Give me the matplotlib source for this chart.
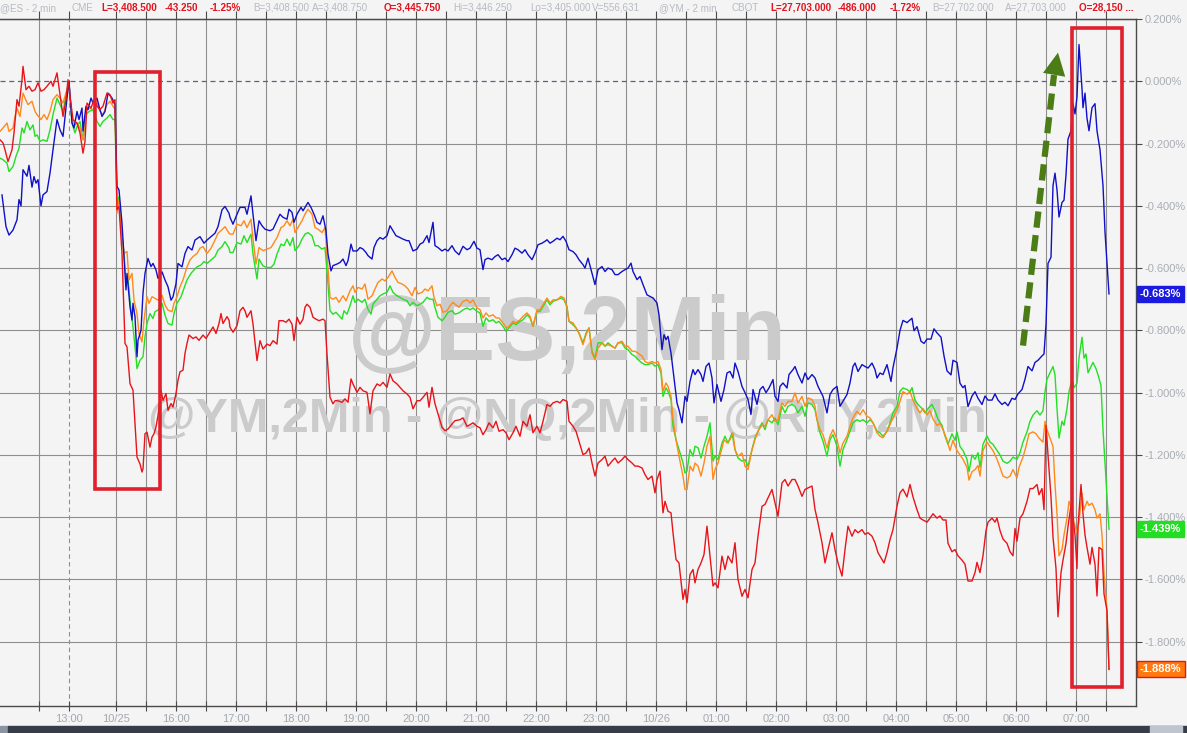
import numpy as np
import matplotlib
matplotlib.use("Agg")
import matplotlib.pyplot as plt
from matplotlib.patches import Rectangle

plt.rcParams['font.family'] = ['Liberation Sans', 'DejaVu Sans']

# ---------------- data (x = minutes on the compressed session axis, y = % change) ----------------
es_t = [2, 6, 9, 13, 17, 19, 21, 23, 27, 29, 32, 34, 36, 38, 41, 43, 47, 50, 53, 57, 60, 63, 67, 69, 72, 74, 77, 79, 82, 83,
        86, 88, 91, 93, 97, 99, 102, 105, 108, 112, 115, 117, 119, 122, 124, 126, 127, 130, 132, 133, 135, 137, 138, 141,
        143, 145, 148, 151, 153, 156, 158, 162, 165, 168, 171, 173, 176, 178, 182, 185, 188, 192, 195, 200, 204, 207, 211,
        215, 218, 222, 225, 229,
        230, 233, 237, 240, 245, 247, 251, 253, 256, 259, 262, 265, 270, 273, 277, 280, 283, 287, 289, 292, 294, 297, 301,
        303, 306, 308, 311, 314, 317, 320, 323, 326, 328, 331, 333, 337, 340, 343, 346, 348, 351, 353, 357, 360, 363, 366,
        368, 372, 374, 377, 380, 383, 387, 390, 393, 396, 400, 403, 407, 409, 413, 417, 420, 423, 427, 429, 433, 435, 438,
        442, 445, 448, 452, 455,
        459, 463, 467, 470, 474, 477, 480, 483, 485, 488, 492, 495, 498, 502, 505, 508, 512, 515, 518, 522, 525, 528, 532,
        535, 538, 542, 545, 547, 550, 553, 557, 560, 563, 566, 569, 573, 576, 579, 583, 585, 588, 592, 595, 598, 602, 605,
        608, 612, 615, 618, 622, 625, 628, 631, 633, 637, 640, 643, 647, 650, 653, 657, 659, 662, 664, 666, 668, 671, 673,
        677, 679, 682,
        685, 687, 690, 693, 695, 698, 701, 703, 706, 709, 712, 714, 717, 721, 724, 727, 730, 733, 735, 738, 742, 745, 748,
        751, 753, 757, 760, 763, 766, 769, 773, 775, 778, 780, 783, 787, 789, 793, 795, 798, 802, 805, 808, 812, 815, 818,
        823, 827, 830, 833, 837, 840, 843, 847, 850, 853, 855, 858, 862, 865, 868, 872, 875, 877, 880, 883, 887, 891, 893,
        897,
        900, 903, 907, 912, 914, 917, 921, 924, 927, 931, 934, 937, 941, 944, 947, 951, 953, 957, 960, 963, 965, 968, 972,
        975, 978, 982, 985, 988, 992, 995, 998, 1002, 1005, 1008, 1012, 1015, 1018, 1022, 1025, 1028, 1032, 1035, 1038,
        1042, 1044, 1046, 1048, 1051, 1053, 1055, 1057, 1059, 1062, 1064, 1066, 1068, 1071, 1073, 1075, 1077, 1079, 1082,
        1083, 1085, 1087, 1089, 1092, 1095, 1097, 1100, 1103, 1105, 1109]
es_v = [-0.365, -0.467, -0.494, -0.478, -0.445, -0.38, -0.40, -0.284, -0.305, -0.27, -0.34, -0.306, -0.327, -0.316, -0.40,
        -0.365, -0.354, -0.295, -0.22, -0.123, -0.156, -0.177, -0.054, 0.0, -0.134, -0.15, -0.097, -0.123, -0.086, -0.16,
        -0.08, -0.091, -0.054, -0.07, -0.054, -0.08, -0.113, -0.097, -0.038, -0.054, -0.075, -0.338, -0.349, -0.456, -0.563,
        -0.67, -0.617, -0.724, -0.767, -0.713, -0.756, -0.885, -0.832, -0.80, -0.68, -0.617, -0.569, -0.595, -0.585, -0.606,
        -0.633, -0.612, -0.638, -0.66, -0.703, -0.692, -0.65, -0.585, -0.596, -0.553, -0.531, -0.542, -0.51, -0.499, -0.52,
        -0.51, -0.499, -0.488, -0.467, -0.413, -0.402, -0.424,
        -0.437, -0.459, -0.427, -0.405, -0.405, -0.427, -0.368, -0.427, -0.512, -0.448, -0.464, -0.475, -0.48, -0.475,
        -0.448, -0.427, -0.437, -0.443, -0.411, -0.421, -0.453, -0.427, -0.405, -0.416, -0.40, -0.389, -0.405, -0.427,
        -0.453, -0.459, -0.432, -0.48, -0.555, -0.609, -0.592, -0.587, -0.582, -0.571, -0.592, -0.576, -0.523, -0.545,
        -0.545, -0.534, -0.539, -0.55, -0.56, -0.571, -0.534, -0.512, -0.502, -0.507, -0.496, -0.464, -0.48, -0.496,
        -0.502, -0.507, -0.512, -0.512, -0.545, -0.539, -0.523, -0.518, -0.496, -0.518, -0.453, -0.528, -0.534, -0.545,
        -0.539, -0.545, -0.528, -0.545,
        -0.557, -0.530, -0.541, -0.536, -0.514, -0.536, -0.541, -0.605, -0.573, -0.568, -0.573, -0.563, -0.557, -0.573,
        -0.568, -0.579, -0.557, -0.536, -0.541, -0.552, -0.541, -0.557, -0.573, -0.552, -0.525, -0.520, -0.514, -0.509,
        -0.520, -0.514, -0.504, -0.509, -0.498, -0.514, -0.541, -0.547, -0.557, -0.573, -0.589, -0.600, -0.568, -0.616,
        -0.653, -0.605, -0.595, -0.611, -0.600, -0.605, -0.621, -0.621, -0.611, -0.605, -0.600, -0.584, -0.611, -0.637,
        -0.627, -0.653, -0.686, -0.691, -0.696, -0.712, -0.750, -0.862, -0.814, -0.830, -0.819, -0.873, -0.926, -1.033,
        -1.055, -1.097,
        -1.012, -1.028, -0.964, -0.926, -0.942, -0.926, -0.942, -0.964, -0.916, -0.905, -0.953, -1.033, -0.974, -1.028,
        -0.99, -0.937, -0.932, -0.953, -0.905, -0.932, -0.98, -1.0, -1.022, -1.07, -0.99, -1.038, -0.99, -0.98, -1.0,
        -0.985, -0.958, -1.012, -1.028, -0.98, -0.969, -0.985, -0.942, -0.926, -0.916, -0.942, -0.969, -0.937, -0.958,
        -0.942, -0.953, -0.98, -1.012, -1.065, -1.006, -0.99, -0.98, -1.044, -1.028, -1.006, -0.969, -0.916, -0.905, -0.932,
        -0.91, -0.916, -0.921, -0.905, -0.926, -0.953, -0.937, -0.942, -0.91, -0.964, -0.92, -0.857,
        -0.80, -0.768, -0.775, -0.761, -0.801, -0.788, -0.835, -0.842, -0.828, -0.828, -0.795, -0.808, -0.822, -0.882,
        -0.93, -0.943, -0.896, -0.903, -0.97, -0.984, -0.977, -1.045, -1.011, -0.997, -1.018, -1.038, -1.011, -1.024,
        -1.024, -1.004, -1.024, -1.038, -1.031, -1.042, -1.018, -1.022, -1.004, -0.99, -0.957, -0.916, -0.93, -0.903,
        -0.896, -0.882, -0.876, -0.781, -0.585, -0.565, -0.335, -0.295, -0.349, -0.436, -0.389, -0.382, -0.301, -0.186,
        -0.159, -0.072, -0.105, -0.051, 0.118, -0.024, -0.085, -0.038, -0.119, -0.159, -0.085, -0.072, -0.159, -0.22,
        -0.335, -0.484, -0.683]

rty_t = [0, 3, 7, 9, 13, 15, 17, 20, 23, 25, 28, 32, 35, 37, 41, 44, 47, 50, 53, 57, 60, 63, 67, 69, 72, 75, 77, 80, 83, 86,
         89, 93, 97, 100, 103, 107, 110, 113, 115, 117, 119, 121, 124, 127, 129, 132, 134, 137, 139, 142, 144, 147, 149,
         152, 155, 158, 162, 165, 168, 172, 174, 177, 180, 183, 187, 190, 193, 197, 200, 203, 207, 211, 215, 218, 222, 225,
         229,
         230, 233, 237, 241, 244, 247, 251, 253, 256, 259, 263, 267, 271, 274, 277, 281, 284, 287, 290, 293, 295, 299, 302,
         305, 308, 312, 315, 318, 322, 325, 327, 330, 333, 336, 339, 343, 346, 350, 353, 355, 358, 362, 365, 368, 372, 375,
         378, 382, 385, 388, 392, 395, 398, 402, 405, 408, 412, 415, 418, 422, 425, 428, 432, 434, 437, 440, 443, 447, 450,
         453, 457,
         459, 463, 467, 470, 473, 477, 480, 483, 486, 489, 493, 496, 499, 503, 506, 509, 513, 516, 520, 523, 527, 530, 533,
         537, 540, 543, 547, 550, 553, 557, 561, 564, 567, 569, 573, 576, 579, 583, 586, 589, 592, 595, 598, 602, 605, 608,
         612, 615, 618, 622, 625, 628, 632, 635, 638, 642, 645, 648, 652, 655, 658, 661, 663, 666, 668, 671, 673, 676, 679,
         683, 685,
         687, 690, 693, 695, 698, 701, 704, 707, 710, 713, 715, 718, 722, 724, 727, 730, 733, 735, 738, 742, 745, 748, 752,
         755, 758, 762, 765, 768, 772, 775, 778, 782, 785, 788, 792, 795, 798, 802, 805, 808, 812, 815, 817, 820, 823, 827,
         830, 833, 837, 840, 843, 847, 850, 853, 857, 860, 863, 867, 870, 873, 877, 880, 883, 887, 890, 893, 897,
         900, 903, 907, 910, 913, 917, 920, 923, 927, 930, 933, 937, 940, 943, 947, 950, 953, 957, 960, 963, 967, 969, 972,
         975, 978, 980, 983, 987, 990, 993, 997, 1000, 1003, 1007, 1010, 1013, 1017, 1019, 1023, 1026, 1029, 1033, 1036,
         1039, 1043, 1045, 1047, 1050, 1053, 1055, 1057, 1059, 1062, 1064, 1067, 1069, 1072, 1074, 1077, 1079, 1082, 1084,
         1087, 1089, 1092, 1095, 1097, 1100, 1102, 1104, 1107, 1109]
rty_v = [-0.161, -0.15, -0.134, -0.161, -0.15, -0.113, -0.086, -0.113, -0.038, -0.054, -0.075, -0.064, -0.097, -0.107,
         -0.123, -0.107, -0.123, -0.097, -0.059, -0.043, -0.054, -0.07, -0.027, -0.005, -0.123, -0.14, -0.134, -0.15,
         -0.188, -0.097, -0.086, -0.091, -0.07, -0.097, -0.107, -0.075, -0.064, -0.08, -0.091, -0.424, -0.381, -0.467,
         -0.553, -0.547, -0.638, -0.617, -0.703, -0.746, -0.81, -0.837, -0.767, -0.692, -0.713, -0.692, -0.697, -0.703,
         -0.687, -0.719, -0.735, -0.74, -0.713, -0.692, -0.66, -0.638, -0.596, -0.574, -0.563, -0.553, -0.536, -0.531,
         -0.553, -0.536, -0.51, -0.488, -0.477, -0.467, -0.488,
         -0.491, -0.491, -0.459, -0.464, -0.448, -0.47, -0.443, -0.507, -0.587, -0.534, -0.544, -0.539, -0.534, -0.518,
         -0.502, -0.47, -0.464, -0.448, -0.464, -0.443, -0.486, -0.464, -0.448, -0.427, -0.411, -0.427, -0.47, -0.475,
         -0.486, -0.47, -0.555, -0.694, -0.70, -0.694, -0.71, -0.689, -0.705, -0.673, -0.657, -0.678, -0.662, -0.667,
         -0.651, -0.70, -0.689, -0.667, -0.646, -0.635, -0.641, -0.63, -0.609, -0.63, -0.646, -0.651, -0.657, -0.667,
         -0.689, -0.662, -0.683, -0.678, -0.667, -0.673, -0.657, -0.694, -0.721, -0.716, -0.742, -0.737, -0.721, -0.71,
         -0.721,
         -0.726, -0.707, -0.702, -0.712, -0.702, -0.728, -0.733, -0.76, -0.744, -0.755, -0.75, -0.76, -0.76, -0.776,
         -0.792, -0.787, -0.771, -0.776, -0.766, -0.755, -0.744, -0.755, -0.787, -0.734, -0.734, -0.718, -0.696, -0.712,
         -0.702, -0.702, -0.691, -0.696, -0.728, -0.771, -0.776, -0.792, -0.809, -0.846, -0.814, -0.792, -0.873, -0.894,
         -0.857, -0.84, -0.85, -0.846, -0.851, -0.857, -0.84, -0.835, -0.851, -0.851, -0.867, -0.867, -0.873, -0.883, -0.9,
         -0.905, -0.9, -0.905, -0.9, -0.926, -0.996, -0.969, -0.98, -1.012, -1.087, -1.151, -1.204, -1.268, -1.311,
         -1.311, -1.236, -1.252, -1.226, -1.236, -1.268, -1.226, -1.172, -1.14, -1.279, -1.247, -1.226, -1.178, -1.151,
         -1.161, -1.151, -1.13, -1.183, -1.204, -1.194, -1.236, -1.247, -1.183, -1.151, -1.124, -1.103, -1.108, -1.087,
         -1.071, -1.092, -1.087, -1.033, -1.044, -1.028, -1.028, -1.001, -1.033, -1.012, -1.044, -1.017, -1.022, -1.044,
         -1.087, -1.119, -1.135, -1.178, -1.14, -1.119, -1.151, -1.194, -1.162, -1.14, -1.108, -1.081, -1.06, -1.071,
         -1.055, -1.076, -1.081, -1.097, -1.129, -1.14, -1.145, -1.124, -1.103, -1.081, -1.055,
         -1.028, -0.997, -1.005, -0.997, -1.024, -1.051, -1.065, -1.051, -1.072, -1.058, -1.085, -1.105, -1.099, -1.119,
         -1.153, -1.186, -1.153, -1.186, -1.2, -1.214, -1.24, -1.281, -1.254, -1.247, -1.234, -1.268, -1.186, -1.159,
         -1.173, -1.186, -1.214, -1.24, -1.268, -1.274, -1.268, -1.247, -1.274, -1.24, -1.207, -1.173, -1.132, -1.126,
         -1.132, -1.146, -1.159, -1.092, -1.119, -1.146, -1.173, -1.295, -1.389, -1.524, -1.504, -1.457, -1.403, -1.349,
         -1.376, -1.416, -1.45, -1.416, -1.322, -1.376, -1.349, -1.362, -1.355, -1.376, -1.403, -1.389, -1.457, -1.578,
         -1.70, -1.888]

nq_t = [0, 3, 7, 9, 13, 16, 19, 22, 24, 27, 30, 33, 35, 37, 40, 43, 47, 50, 53, 57, 60, 63, 67, 69, 72, 75, 77, 80, 83, 86,
        89, 93, 97, 100, 103, 107, 110, 113, 115, 117, 119, 121, 124, 126, 128, 131, 133, 136, 137, 140, 143, 145, 147, 150,
        153, 155, 158, 162, 165, 168, 172, 174, 177, 181, 184, 187, 191, 194, 197, 201, 204, 207, 211, 215, 218, 222, 225,
        229,
        230, 233, 237, 241, 244, 247, 251, 253, 257, 259, 263, 267, 271, 274, 277, 281, 284, 287, 290, 293, 295, 299, 302,
        305, 308, 312, 315, 318, 322, 325, 327, 330, 333, 336, 339, 342, 344, 347, 350, 353, 355, 358, 362, 365, 368, 371,
        373, 377, 380, 383, 387, 390, 393, 397, 400, 403, 407, 410, 413, 417, 420, 423, 427, 430, 433, 435, 438, 442, 445,
        448, 452, 455,
        459, 463, 467, 470, 473, 477, 480, 483, 486, 489, 493, 496, 499, 503, 506, 509, 513, 516, 520, 523, 527, 530, 533,
        537, 540, 543, 547, 550, 553, 557, 561, 564, 567, 569, 573, 576, 579, 583, 586, 589, 592, 595, 598, 602, 605, 608,
        612, 615, 618, 622, 625, 628, 632, 635, 638, 642, 645, 648, 652, 655, 658, 661, 663, 666, 668, 671, 673, 676, 679,
        683, 685,
        687, 690, 693, 695, 698, 701, 704, 707, 710, 713, 715, 718, 722, 725, 728, 732, 735, 738, 742, 745, 748, 752, 755,
        758, 762, 765, 768, 772, 775, 778, 782, 785, 788, 792, 795, 798, 802, 805, 808, 812, 815, 817, 820, 823, 827, 830,
        833, 837, 840, 843, 847, 850, 853, 857, 860, 863, 867, 870, 873, 877, 880, 883, 887, 890, 893, 897,
        900, 903, 907, 910, 912, 915, 918, 922, 925, 928, 932, 935, 938, 942, 945, 948, 952, 955, 957, 960, 963, 967, 969,
        972, 975, 978, 980, 983, 987, 990, 993, 997, 1000, 1003, 1007, 1010, 1013, 1017, 1020, 1023, 1027, 1030, 1033,
        1037, 1040, 1043, 1045, 1047, 1050, 1053, 1055, 1057, 1059, 1062, 1064, 1067, 1069, 1072, 1074, 1077, 1079, 1082,
        1084, 1086, 1088, 1091, 1093, 1096, 1098, 1101, 1103, 1106, 1109]
nq_v = [-0.247, -0.252, -0.263, -0.29, -0.274, -0.241, -0.215, -0.15, -0.166, -0.129, -0.156, -0.14, -0.177, -0.172,
        -0.193, -0.188, -0.193, -0.156, -0.107, -0.054, -0.075, -0.097, -0.027, -0.005, -0.134, -0.166, -0.145, -0.129,
        -0.188, -0.107, -0.097, -0.091, -0.129, -0.145, -0.129, -0.118, -0.107, -0.123, -0.123, -0.402, -0.37, -0.467,
        -0.553, -0.649, -0.638, -0.735, -0.789, -0.885, -0.923, -0.896, -0.885, -0.821, -0.778, -0.746, -0.762, -0.74,
        -0.735, -0.713, -0.751, -0.778, -0.783, -0.746, -0.713, -0.692, -0.665, -0.638, -0.617, -0.606, -0.596, -0.59,
        -0.579, -0.585, -0.574, -0.563, -0.542, -0.531, -0.515, -0.536,
        -0.55, -0.55, -0.518, -0.523, -0.496, -0.518, -0.491, -0.555, -0.635, -0.571, -0.593, -0.598, -0.598, -0.587,
        -0.555, -0.523, -0.528, -0.507, -0.528, -0.502, -0.544, -0.528, -0.507, -0.491, -0.486, -0.496, -0.528, -0.528,
        -0.539, -0.534, -0.609, -0.737, -0.748, -0.742, -0.753, -0.764, -0.737, -0.748, -0.721, -0.689, -0.71, -0.70,
        -0.71, -0.70, -0.732, -0.748, -0.716, -0.70, -0.689, -0.683, -0.678, -0.657, -0.678, -0.689, -0.694, -0.70,
        -0.705, -0.721, -0.71, -0.721, -0.716, -0.71, -0.694, -0.70, -0.70, -0.726, -0.758, -0.769, -0.758, -0.742,
        -0.737, -0.748,
        -0.744, -0.734, -0.728, -0.734, -0.728, -0.739, -0.744, -0.787, -0.76, -0.771, -0.766, -0.776, -0.771, -0.787,
        -0.803, -0.792, -0.776, -0.782, -0.771, -0.766, -0.75, -0.76, -0.787, -0.739, -0.739, -0.723, -0.702, -0.718,
        -0.707, -0.702, -0.696, -0.702, -0.723, -0.771, -0.782, -0.792, -0.809, -0.84, -0.809, -0.792, -0.867, -0.889,
        -0.84, -0.84, -0.851, -0.84, -0.851, -0.857, -0.84, -0.84, -0.857, -0.862, -0.878, -0.883, -0.894, -0.905, -0.91,
        -0.91, -0.905, -0.915, -0.91, -0.937, -1.012, -0.985, -0.996, -1.022, -1.108, -1.151, -1.183, -1.225, -1.258,
        -1.252, -1.183, -1.204, -1.172, -1.177, -1.21, -1.172, -1.14, -1.097, -1.22, -1.204, -1.215, -1.162, -1.14,
        -1.162, -1.13, -1.183, -1.21, -1.22, -1.215, -1.236, -1.183, -1.145, -1.124, -1.097, -1.119, -1.087, -1.097,
        -1.081, -1.103, -1.044, -1.065, -1.044, -1.038, -1.044, -1.065, -1.044, -1.076, -1.033, -1.038, -1.055, -1.087,
        -1.129, -1.156, -1.204, -1.151, -1.135, -1.172, -1.236, -1.183, -1.151, -1.124, -1.097, -1.087, -1.092, -1.087,
        -1.097, -1.087, -1.097, -1.124, -1.129, -1.14, -1.124, -1.097, -1.065, -1.044,
        -0.995, -0.985, -0.99, -0.997, -0.984, -1.024, -1.038, -1.051, -1.065, -1.051, -1.038, -1.058, -1.085, -1.105,
        -1.139, -1.166, -1.132, -1.153, -1.126, -1.173, -1.186, -1.214, -1.254, -1.20, -1.214, -1.193, -1.24, -1.166,
        -1.139, -1.159, -1.166, -1.186, -1.20, -1.22, -1.227, -1.22, -1.207, -1.214, -1.193, -1.159, -1.126, -1.092,
        -1.072, -1.058, -1.072, -1.058, -0.997, -0.957, -0.936, -0.916, -0.943, -1.051, -1.146, -1.092, -1.105, -1.051,
        -0.997, -0.957, -0.984, -0.97, -0.889, -0.822, -0.889, -0.876, -0.936, -0.916, -0.903, -0.923, -0.943, -0.977,
        -1.119, -1.281, -1.439]

ym_t = [0, 3, 5, 8, 12, 14, 17, 19, 22, 23, 26, 29, 32, 35, 38, 41, 44, 47, 51, 53, 57, 60, 63, 66, 68, 70, 73, 75, 77, 80,
        83, 85, 87, 91, 94, 97, 100, 103, 107, 110, 113, 115, 117, 119, 122, 125, 127, 130, 133, 135, 137, 140, 142, 143,
        145, 147, 150, 152, 154, 156, 158, 161, 163, 166, 168, 171, 173, 176, 178, 180, 183, 185, 187, 189, 193, 196, 199,
        203, 206, 209, 213, 216, 219, 221, 223, 227, 229,
        230, 233, 237, 240, 243, 245, 247, 251, 253, 257, 260, 263, 267, 270, 273, 277, 279, 283, 286, 289, 292, 294, 297,
        300, 303, 305, 307, 310, 313, 316, 319, 323, 325, 327, 330, 333, 335, 338, 342, 345, 348, 351, 353, 357, 360, 363,
        367, 370, 373, 377, 380, 383, 387, 390, 393, 397, 400, 403, 407, 410, 413, 417, 420, 423, 427, 429, 432, 435, 438,
        442, 445, 448, 452, 455,
        460, 463, 467, 470, 473, 477, 480, 483, 486, 489, 493, 496, 499, 503, 506, 509, 513, 516, 520, 523, 527, 530, 533,
        537, 540, 543, 547, 550, 553, 557, 560, 563, 567, 569, 573, 576, 579, 583, 586, 589, 592, 595, 598, 602, 605, 608,
        612, 615, 618, 622, 625, 628, 632, 635, 638, 642, 645, 648, 652, 655, 657, 660, 663, 665, 668, 671, 673, 676, 679,
        683,
        685, 687, 690, 693, 695, 698, 701, 704, 707, 710, 713, 715, 718, 722, 725, 728, 732, 735, 738, 742, 745, 748, 752,
        755, 758, 762, 765, 768, 772, 775, 778, 782, 785, 788, 792, 795, 798, 802, 805, 808, 812, 815, 818, 822, 825, 828,
        832, 835, 838, 842, 845, 848, 852, 855, 858, 862, 865, 868, 872, 875, 878, 882, 884, 887, 890, 893, 897,
        900, 903, 907, 910, 913, 917, 920, 923, 927, 930, 933, 937, 940, 943, 946, 948, 952, 955, 958, 962, 965, 968, 972,
        975, 977, 980, 983, 986, 988, 992, 995, 997, 1000, 1003, 1007, 1010, 1013, 1015, 1017, 1020, 1023, 1027, 1030,
        1033, 1037, 1039, 1042, 1044, 1046, 1048, 1051, 1053, 1056, 1058, 1061, 1063, 1066, 1068, 1071, 1073, 1075, 1077,
        1078, 1081, 1083, 1085, 1087, 1090, 1092, 1095, 1097, 1099, 1102, 1104, 1107, 1109]
ym_v = [-0.188, -0.198, -0.22, -0.258, -0.22, -0.166, -0.059, -0.08, 0.005, 0.048, -0.027, -0.016, -0.032, -0.027,
        -0.005, -0.032, -0.027, -0.016, 0.0, -0.016, 0.027, -0.043, -0.113, -0.059, 0.005, -0.048, -0.123, -0.129, -0.134,
        -0.166, -0.231, -0.193, -0.07, -0.086, -0.059, -0.08, -0.091, -0.08, -0.038, -0.043, -0.07, -0.059, -0.413,
        -0.402, -0.553, -0.842, -0.853, -0.971, -0.992, -1.10, -1.207, -1.229, -1.255, -1.245, -1.132, -1.127, -1.175,
        -1.143, -1.132, -1.11, -1.073, -0.992, -1.025, -1.003, -1.057, -1.035, -1.046, -1.003, -0.96, -0.933, -0.928,
        -0.874, -0.842, -0.815, -0.826, -0.821, -0.832, -0.815, -0.826, -0.81, -0.789, -0.81, -0.778, -0.746, -0.778,
        -0.756, -0.767,
        -0.79, -0.806, -0.785, -0.737, -0.726, -0.737, -0.758, -0.737, -0.78, -0.897, -0.833, -0.86, -0.844, -0.849,
        -0.833, -0.844, -0.769, -0.769, -0.774, -0.764, -0.78, -0.833, -0.758, -0.78, -0.764, -0.726, -0.716, -0.726,
        -0.758, -0.764, -0.769, -0.764, -0.769, -0.876, -1.015, -1.036, -1.026, -1.026, -1.031, -1.02, -1.031, -0.956,
        -0.972, -0.999, -0.983, -0.994, -0.999, -1.068, -0.994, -0.972, -0.978, -0.967, -0.983, -0.94, -0.962, -0.972,
        -0.983, -0.994, -1.004, -1.015, -1.052, -1.026, -1.026, -1.015, -0.999, -1.047, -0.983, -1.036, -1.068, -1.111,
        -1.122, -1.117, -1.101, -1.09,
        -1.087, -1.081, -1.108, -1.103, -1.097, -1.108, -1.113, -1.135, -1.119, -1.097, -1.113, -1.092, -1.124, -1.119,
        -1.129, -1.151, -1.129, -1.108, -1.14, -1.092, -1.108, -1.071, -1.129, -1.108, -1.129, -1.092, -1.038, -1.044,
        -1.033, -1.028, -1.033, -1.022, -1.028, -1.092, -1.108, -1.124, -1.156, -1.199, -1.194, -1.178, -1.226, -1.268,
        -1.226, -1.215, -1.204, -1.236, -1.22, -1.21, -1.226, -1.215, -1.204, -1.215, -1.226, -1.236, -1.236, -1.242,
        -1.263, -1.279, -1.268, -1.322, -1.279, -1.252, -1.386, -1.349, -1.381, -1.386, -1.45, -1.536, -1.547, -1.664,
        -1.632, -1.675, -1.584, -1.568, -1.611, -1.568, -1.547, -1.52, -1.429, -1.525, -1.621, -1.611, -1.627, -1.525,
        -1.568, -1.525, -1.547, -1.482, -1.60, -1.654, -1.632, -1.659, -1.568, -1.547, -1.461, -1.365, -1.359, -1.338,
        -1.311, -1.354, -1.397, -1.29, -1.279, -1.30, -1.279, -1.279, -1.30, -1.333, -1.311, -1.306, -1.30, -1.375,
        -1.418, -1.482, -1.547, -1.504, -1.45, -1.504, -1.547, -1.589, -1.504, -1.429, -1.461, -1.44, -1.45, -1.44,
        -1.455, -1.45, -1.461, -1.482, -1.514, -1.536, -1.547, -1.514, -1.472, -1.44, -1.365,
        -1.322, -1.31, -1.335, -1.295, -1.335, -1.376, -1.403, -1.409, -1.416, -1.403, -1.389, -1.403, -1.396, -1.409,
        -1.409, -1.484, -1.511, -1.504, -1.524, -1.538, -1.551, -1.605, -1.605, -1.578, -1.545, -1.578, -1.524, -1.443,
        -1.416, -1.403, -1.416, -1.403, -1.443, -1.47, -1.484, -1.511, -1.524, -1.436, -1.477, -1.403, -1.389, -1.349,
        -1.308, -1.308, -1.295, -1.328, -1.308, -1.376, -1.105, -1.20, -1.335, -1.464, -1.565, -1.72, -1.578, -1.538,
        -1.484, -1.43, -1.362, -1.403, -1.457, -1.565, -1.43, -1.295, -1.389, -1.457, -1.497, -1.551, -1.497, -1.551,
        -1.653, -1.497, -1.504, -1.646, -1.70, -1.889]

# axis ticks (minutes on session axis) and labels
tick_minutes = [39, 69, 116, 146, 176, 206, 236, 266, 296, 326, 356, 386, 416, 446, 476, 506, 536, 566, 596, 626,
                656, 686, 716, 746, 776, 806, 836, 866, 896, 926, 956, 986, 1016, 1046, 1076, 1106]
tick_labels = ['', '13:00', '10/25', '', '16:00', '', '17:00', '', '18:00', '', '19:00', '', '20:00', '', '21:00', '',
               '22:00', '', '23:00', '', '10/26', '', '01:00', '', '02:00', '', '03:00', '', '04:00', '', '05:00', '',
               '06:00', '', '07:00', '']
cash_close_minute = 69
y_ticks = [0.2, 0.0, -0.2, -0.4, -0.6, -0.8, -1.0, -1.2, -1.4, -1.6, -1.8]

last_labels = [(-0.683, '-0.683%', '#1a1ae0', '#1a1ae0'),
               (-1.439, '-1.439%', '#22dd22', '#22dd22'),
               (-1.888, '-1.888%', '#ff7a10', '#e8161a')]

header = [(0, "@ES - 2 min", 'g'), (72, "CME", 'g'), (101, "L=3,408.500", 'r'), (165, "-43.250", 'r'),
          (210, "-1.25%", 'r'), (253, "B=3,408.500", 'g'), (312, "A=3,408.750", 'g'), (384, "O=3,445.750", 'r'),
          (453, "Hi=3,446.250", 'g'), (530, "Lo=3,405.000", 'g'), (592, "V=556,631", 'g'), (659, "@YM - 2 min", 'g'),
          (732, "CBOT", 'g'), (770, "L=27,703.000", 'r'), (838, "-486.000", 'r'), (890, "-1.72%", 'r'),
          (932, "B=27,702.000", 'g'), (1005, "A=27,703.000", 'g'), (1079, "O=28,150 ...", 'r')]

# ---------------- figure ----------------
W, H = 1187, 733
fig = plt.figure(figsize=(W / 100, H / 100), dpi=100)
fig.patch.set_facecolor('#f4f4f4')

ax_left, ax_right, ax_top, ax_bot = 0, 1136, 19, 706
ax = fig.add_axes([ax_left / W, (H - ax_bot) / H, (ax_right - ax_left) / W, (ax_bot - ax_top) / H])
ax.set_facecolor('#f4f4f4')
ax.set_xlim(0, 1136)
ax.set_ylim((80 - ax_bot) / 312, (80 - ax_top) / 312)

# grid
for m in tick_minutes:
    ax.axvline(m, color='#8e8e8e', lw=0.8, ls=(0, (4, 3)) if m == cash_close_minute else '-', zorder=0.6)
for yv in y_ticks:
    if abs(yv) < 1e-9:
        ax.axhline(yv, color='#5a6482', lw=0.9, ls=(0, (4, 3)), zorder=0.6)
    else:
        ax.axhline(yv, color='#8e8e8e', lw=0.8, zorder=0.6)

# watermarks
ax.text(567, -0.895, '@ES,2Min', ha='center', va='baseline', fontsize=65, fontweight='bold',
        color='#cbcbcb', zorder=0.7)
ax.text(567, -1.128, '@YM,2Min - @NQ,2Min - @RTY,2Min', ha='center', va='baseline', fontsize=35,
        fontweight='bold', color='#cbcbcb', zorder=0.7)

# series
ax.plot(nq_t, nq_v, color='#22e022', lw=1.0, zorder=2)
ax.plot(rty_t, rty_v, color='#ff8a1a', lw=1.0, zorder=2.1)
ax.plot(es_t, es_v, color='#1010c8', lw=1.0, zorder=2.2)
ax.plot(ym_t, ym_v, color='#e8141a', lw=1.0, zorder=2.3)

# annotations: red boxes
for (x0, x1, y0, y1) in [(95, 160, 0.0288, -1.311), (1072, 1122, 0.170, -1.946)]:
    ax.add_patch(Rectangle((x0, y1), x1 - x0, y0 - y1, fill=False, edgecolor='#e0202c', lw=2.6,
                           zorder=4, clip_on=False))

# green dashed arrow
ax.plot([1023, 1054], [-0.849, 0.02], color='#4c7c16', lw=4.5, ls=(0, (2.6, 1.2)),
        solid_capstyle='butt', zorder=4)
ax.annotate('', xy=(1058, 0.092), xytext=(1053, 0.0),
            arrowprops=dict(arrowstyle='-|>,head_width=0.45,head_length=0.9', color='#4c7c16', lw=0,
                            mutation_scale=18, shrinkA=0, shrinkB=0), zorder=4)

# axes styling
ax.spines['left'].set_visible(False)
for s in ['right', 'top', 'bottom']:
    ax.spines[s].set_color('#4a4a4a')
    ax.spines[s].set_linewidth(1.0)

ax.set_xticks(tick_minutes)
ax.set_xticklabels(tick_labels)
ax.tick_params(axis='x', direction='inout', length=7, width=0.8, color='#4a4a4a', labelsize=8,
               labelcolor='#a4a8b0', pad=2)
ax.yaxis.tick_right()
ax.set_yticks(y_ticks)
ax.set_yticklabels([('%.3f%%' % v) if abs(v) > 1e-9 else '0.000%' for v in y_ticks])
ax.tick_params(axis='y', direction='out', length=4, width=0.8, color='#4a4a4a', labelsize=8,
               labelcolor='#a9adb5', pad=2)

sec = ax.secondary_xaxis('top')
sec.set_xticks(tick_minutes)
sec.set_xticklabels([])
sec.tick_params(direction='out', length=6, width=0.8, color='#4a4a4a')
sec.spines['top'].set_color('#4a4a4a')

# last-value badges
for v, txt, fc, ec in last_labels:
    ax.text(1.0035, v, txt, transform=ax.get_yaxis_transform(), ha='left', va='center', fontsize=8,
            fontweight='bold', color='white', zorder=6, clip_on=False,
            bbox=dict(boxstyle='square,pad=0.28', facecolor=fc, edgecolor=ec, lw=1.0))

# header
for x, txt, c in header:
    fig.text(x / W, 1 - 8 / H, txt, ha='left', va='center', fontsize=7.1,
             color='#e0141e' if c == 'r' else '#b6bac2', fontweight='bold' if c == 'r' else 'normal')

# bottom status band
fig.patches.append(Rectangle((0, 0), 8 / W, 7 / H, transform=fig.transFigure, color='#8a94a2', zorder=0))
fig.patches.append(Rectangle((8 / W, 0), 1, 7 / H, transform=fig.transFigure, color='#363c48', zorder=0))
fig.patches.append(Rectangle((1150 / W, 0), 32 / W, 7 / H, transform=fig.transFigure, color='#bfc5ce', zorder=1))

fig.savefig('out.png', dpi=100, facecolor=fig.get_facecolor())
